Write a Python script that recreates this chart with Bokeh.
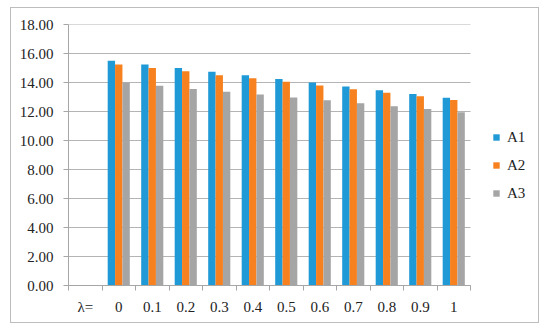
from bokeh.plotting import figure
from bokeh.models import (ColumnDataSource, LinearAxis, FixedTicker, Range1d,
                          Legend, LegendItem, NumeralTickFormatter)
from bokeh.embed import file_html
from bokeh.resources import INLINE

categories = ["λ=", "0", "0.1", "0.2", "0.3", "0.4", "0.5", "0.6", "0.7", "0.8", "0.9", "1"]
series = ["A1", "A2", "A3"]
a1 = [None, 15.50, 15.25, 15.00, 14.75, 14.50, 14.25, 14.00, 13.72, 13.47, 13.20, 12.94]
a2 = [None, 15.25, 15.00, 14.78, 14.50, 14.30, 14.05, 13.80, 13.54, 13.30, 13.05, 12.80]
a3 = [None, 14.00, 13.77, 13.55, 13.37, 13.17, 12.96, 12.77, 12.57, 12.36, 12.17, 11.95]
colors = ["#1f9ad6", "#f7811f", "#a5a5a5"]
y_ticks = [0, 2, 4, 6, 8, 10, 12, 14, 16, 18]

FONT = "Liberation Serif"
N = len(categories)
x_lo, x_hi = -0.5, N - 0.5
# extra room to the right of the category area for the legend
x_end = x_lo + 472 * N / 402.0

p = figure(width=529, height=316, output_backend="svg", toolbar_location=None,
           x_range=Range1d(x_lo, x_end), y_range=Range1d(0, 18),
           x_axis_location=None, y_axis_location=None,
           min_border_left=57, min_border_top=16, min_border_bottom=39,
           min_border_right=0)
p.margin = (7, 0, 0, 10)
p.styles = {"border": "1px solid #bdbdbd"}
p.outline_line_color = None
p.background_fill_color = "white"
p.border_fill_color = "white"

# grid lines limited to the category area
p.xgrid.visible = False
p.ygrid.visible = False
grid_src = ColumnDataSource(dict(x0=[x_lo] * len(y_ticks), x1=[x_hi] * len(y_ticks),
                                 y=y_ticks))
p.segment(x0="x0", x1="x1", y0="y", y1="y", source=grid_src,
          line_color="#b4b4b4", line_width=1)

# axes
xaxis = LinearAxis(ticker=FixedTicker(ticks=list(range(N)),
                                      minor_ticks=[i - 0.5 for i in range(N + 1)]),
                   bounds=(x_lo, x_hi))
xaxis.major_label_overrides = {i: c for i, c in enumerate(categories)}
xaxis.major_tick_line_color = None
xaxis.major_tick_out = 0
xaxis.major_tick_in = 0
xaxis.minor_tick_out = 5
xaxis.minor_tick_in = 0
xaxis.minor_tick_line_color = "#a6a6a6"
xaxis.axis_line_color = "#a6a6a6"
xaxis.major_label_standoff = 8
xaxis.major_label_text_font = FONT
xaxis.major_label_text_font_size = "15px"
xaxis.major_label_text_color = "#222222"
p.add_layout(xaxis, "below")

yaxis = LinearAxis(ticker=FixedTicker(ticks=y_ticks),
                   formatter=NumeralTickFormatter(format="0.00"))
yaxis.major_tick_out = 5
yaxis.major_tick_in = 0
yaxis.major_tick_line_color = "#a6a6a6"
yaxis.minor_tick_line_color = None
yaxis.axis_line_color = "#a6a6a6"
yaxis.major_label_standoff = 10
yaxis.major_label_text_font = FONT
yaxis.major_label_text_font_size = "15px"
yaxis.major_label_text_color = "#222222"
p.add_layout(yaxis, "left")

idx = list(range(N))
bw = 0.22
offsets = [-bw, 0.0, bw]
renderers = []
for vals, off, col in zip([a1, a2, a3], offsets, colors):
    xs = [i + off for i, v in zip(idx, vals) if v is not None]
    ys = [v for v in vals if v is not None]
    src = ColumnDataSource(dict(x=xs, top=ys))
    r = p.vbar(x="x", top="top", bottom=0, width=bw, source=src,
               fill_color=col, line_color=None)
    renderers.append(r)

legend = Legend(items=[LegendItem(label=s, renderers=[r]) for s, r in zip(series, renderers)],
                location=(424, 82))
legend.border_line_color = None
legend.background_fill_alpha = 0
legend.glyph_width = 8
legend.glyph_height = 8
legend.label_standoff = 7
legend.label_height = 20
legend.spacing = 8
legend.label_text_font = FONT
legend.label_text_font_size = "15px"
legend.label_text_color = "#222222"
legend.padding = 0
legend.margin = 0
p.add_layout(legend, "center")

open("out.html", "w").write(file_html(p, INLINE))
